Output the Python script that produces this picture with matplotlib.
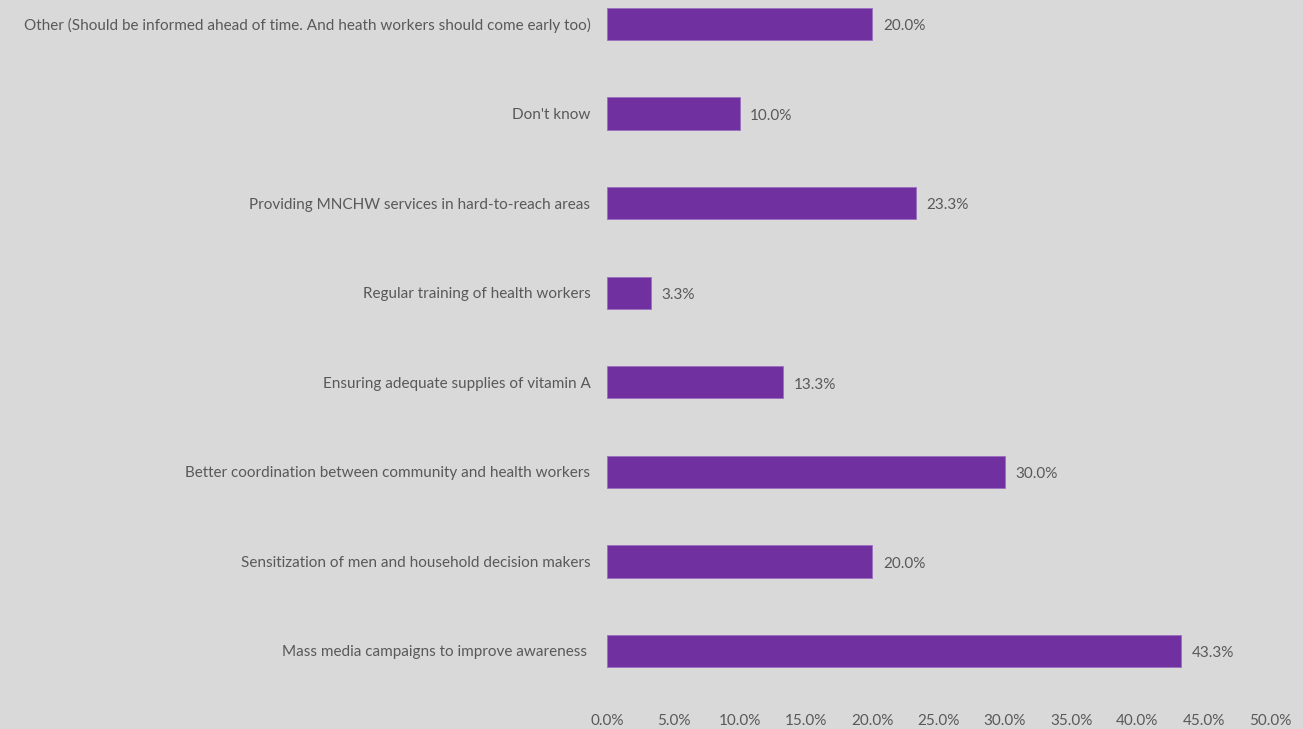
import numpy as np
import matplotlib.pyplot as plt
from matplotlib.ticker import FuncFormatter

# categories listed bottom to top
categories = [
    "Mass media campaigns to improve awareness ",
    "Sensitization of men and household decision makers",
    "Better coordination between community and health workers",
    "Ensuring adequate supplies of vitamin A",
    "Regular training of health workers",
    "Providing MNCHW services in hard-to-reach areas",
    "Don't know",
    "Other (Should be informed ahead of time. And heath workers should come early too)",
]
percentages = [43.3, 20.0, 30.0, 13.3, 3.3, 23.3, 10.0, 20.0]
xticks = [0, 5, 10, 15, 20, 25, 30, 35, 40, 45, 50]

bg = "#D9D9D9"
bar_color = "#7030A0"
text_color = "#595959"

plt.rcParams['font.family'] = ['Lato', 'DejaVu Sans']

fig = plt.figure(figsize=(13.03, 7.29), dpi=100, facecolor=bg)
ax = fig.add_axes([0.4659, 0.0398, 0.5088, 0.9602])
ax.set_facecolor(bg)

y = np.arange(len(categories))
ax.barh(y, percentages, height=0.36, color=bar_color, edgecolor="#9B6FC0", linewidth=0.6)

# value labels sit just right of each bar
for yi, v in zip(y, percentages):
    ax.text(v + 0.8, yi - 0.025, f"{v:.1f}%", va="center", ha="left", fontsize=11, color=text_color)

ax.set_xlim(0, 50)
ax.set_ylim(-0.547, 7.268)
ax.set_xticks(xticks)
ax.xaxis.set_major_formatter(FuncFormatter(lambda v, p: f"{v:.1f}%"))
ax.set_yticks(y)
ax.set_yticklabels(categories)

ax.tick_params(axis="x", length=0, pad=10, labelsize=11, labelcolor=text_color)
ax.tick_params(axis="y", length=0, pad=12, labelsize=11, labelcolor=text_color)
for s in ax.spines.values():
    s.set_visible(False)

fig.savefig("out.png", dpi=100, facecolor=bg)
